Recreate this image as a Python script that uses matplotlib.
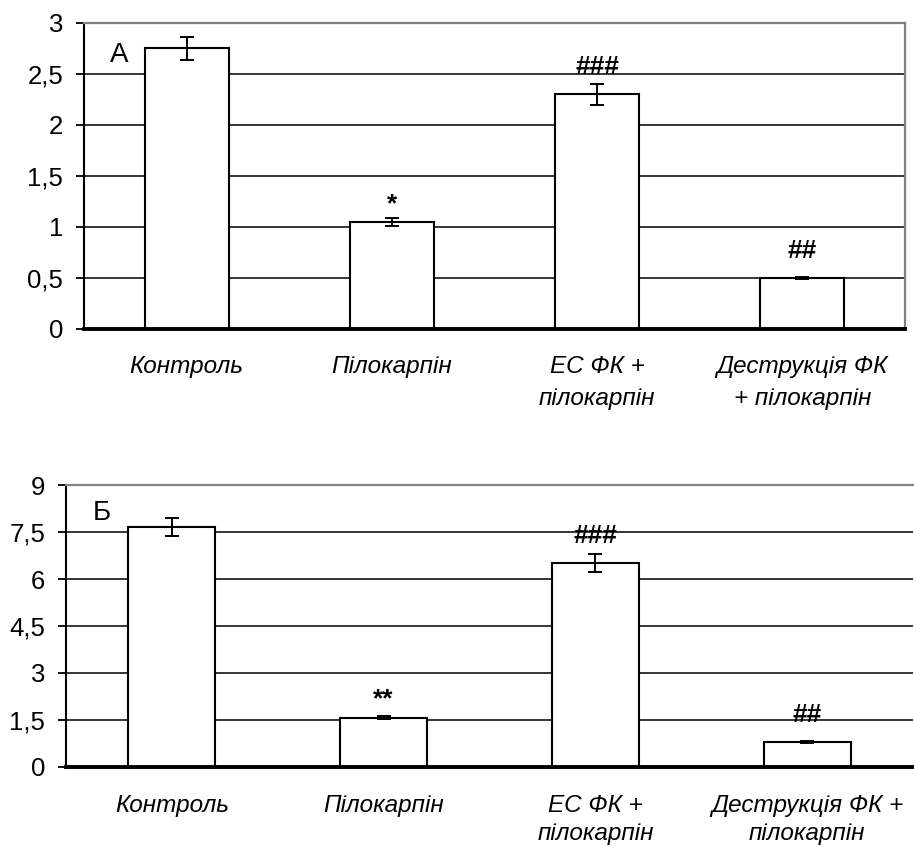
import matplotlib
matplotlib.use("Agg")
import matplotlib.pyplot as plt

plt.rcParams['font.family'] = ['Liberation Sans', 'DejaVu Sans']

categories_a = ["Контроль", "Пілокарпін", "ЕС ФК +\nпілокарпін", "Деструкція ФК\n+ пілокарпін"]
categories_b = ["Контроль", "Пілокарпін", "ЕС ФК +\nпілокарпін", "Деструкція ФК +\nпілокарпін"]
values_a = [2.75, 1.05, 2.30, 0.50]
errors_a = [0.11, 0.04, 0.10, 0.01]
marks_a = ["", "*", "###", "##"]
values_b = [7.68, 1.57, 6.52, 0.80]
errors_b = [0.29, 0.04, 0.29, 0.03]
marks_b = ["", "**", "###", "##"]
yticks_a = [0, 0.5, 1, 1.5, 2, 2.5, 3]
ytick_labels_a = ["0", "0,5", "1", "1,5", "2", "2,5", "3"]
yticks_b = [0, 1.5, 3, 4.5, 6, 7.5, 9]
ytick_labels_b = ["0", "1,5", "3", "4,5", "6", "7,5", "9"]

W, H = 914, 846
fig = plt.figure(figsize=(W / 100, H / 100), dpi=100)


def make_panel(rect, cats, vals, errs, marks, yt, ytl, letter, letter_pos, offsets,
               right_spine, lsp, xpad):
    ax = fig.add_axes(rect)
    x = list(range(len(cats)))
    ax.set_ylim(yt[0], yt[-1])
    ax.set_xlim(-0.5, len(cats) - 0.5)
    for t in yt[1:-1]:
        ax.axhline(t, color='black', lw=1.1, zorder=1)
    ax.bar(x, vals, width=0.41, color='white', edgecolor='black', linewidth=1.5, zorder=2)
    ax.errorbar(x, vals, yerr=errs, fmt='none', ecolor='black', elinewidth=1.4,
                capsize=4.7, capthick=1.4, zorder=3)
    for xi, v, e, m, off in zip(x, vals, errs, marks, offsets):
        if m:
            ax.annotate(m, xy=(xi, v + e), xytext=(0, off), textcoords='offset points',
                        ha='center', va='baseline', fontsize=19, fontweight='bold')
    ax.set_yticks(yt)
    ax.set_yticklabels(ytl, fontsize=18.5)
    ax.set_xticks(x)
    ax.set_xticklabels(cats, fontsize=17.5, style='italic')
    for lab in ax.get_xticklabels():
        lab.set_linespacing(lsp)
    ax.tick_params(axis='x', length=0, pad=xpad)
    ax.tick_params(axis='y', length=6, width=1.3, direction='out', pad=9)
    ax.spines['left'].set_linewidth(1.5)
    ax.spines['bottom'].set_linewidth(2.8)
    ax.spines['top'].set_color('#808080')
    ax.spines['top'].set_linewidth(1.6)
    if right_spine:
        ax.spines['right'].set_color('#808080')
        ax.spines['right'].set_linewidth(1.6)
    else:
        ax.spines['right'].set_visible(False)
    ax.text(letter_pos[0], letter_pos[1], letter, transform=ax.transAxes,
            ha='center', va='center', fontsize=20)
    return ax


make_panel([84 / W, 1 - 329 / H, (905 - 84) / W, (329 - 23) / H],
           categories_a, values_a, errors_a, marks_a, yticks_a, ytick_labels_a,
           "А", (0.043, 0.895), [4.5, 4.5, 7.5, 13.5], True, 1.5, 19)

make_panel([66 / W, 1 - 766.7 / H, (913 - 66) / W, (766.7 - 485.3) / H],
           categories_b, values_b, errors_b, marks_b, yticks_b, ytick_labels_b,
           "Б", (0.042, 0.90), [4.5, 7.2, 7.7, 13.5], False, 1.3, 19.5)

fig.savefig("out.png", dpi=100)
